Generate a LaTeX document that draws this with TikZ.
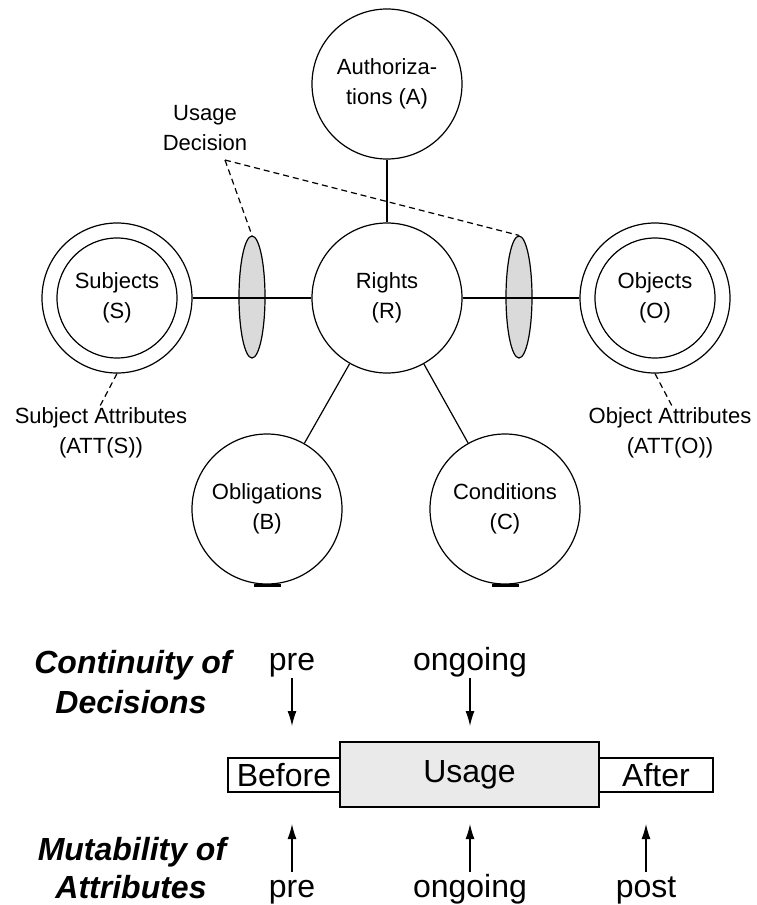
\documentclass[tikz,border=0pt]{standalone}
\usepackage{fontspec}
\setmainfont{Liberation Sans}
\usetikzlibrary{shapes.geometric,arrows.meta}
\definecolor{lensgrey}{RGB}{218,218,218}
\definecolor{boxgrey}{RGB}{234,234,234}
\begin{document}
\begin{tikzpicture}[x=1pt,y=-1pt,line width=1.2pt,
  circ/.style={circle,draw,minimum size=150pt,inner sep=0pt,align=center,font=\fontsize{22}{30}\selectfont},
  incirc/.style={circle,draw,minimum size=120pt,inner sep=0pt,align=center,font=\fontsize{22}{30}\selectfont},
  lens/.style={ellipse,draw,fill=lensgrey,minimum width=26pt,minimum height=122pt,inner sep=0pt},
  lbl/.style={font=\fontsize{22}{30}\selectfont,align=center,inner sep=0pt},
  dashline/.style={dash pattern=on 6pt off 4pt},
  big/.style={font=\fontsize{32}{40}\selectfont,inner sep=0pt,anchor=base},
  bigbi/.style={font=\fontsize{32}{40}\selectfont\bfseries\itshape,inner sep=0pt,anchor=base},
  boxn/.style={draw,inner sep=0pt,font=\fontsize{32}{40}\selectfont},
  arr/.style={-{Latex[length=15pt,width=9pt]}}
]
\useasboundingbox (0,0) rectangle (756,905);

% circles
\node[circ] (A) at (387,84) {Authoriza-\\tions (A)};
\node[circ] (R) at (387,298) {Rights\\(R)};
\node[circ] (So) at (117,298) {};
\node[incirc] (Si) at (117,298) {Subjects\\(S)};
\node[circ] (Oo) at (655,298) {};
\node[incirc] (Oi) at (655,298) {Objects\\(O)};
\node[circ] (B) at (267,509) {Obligations\\(B)};
\node[circ] (C) at (505,509) {Conditions\\(C)};
\draw[line width=3pt] (254,585) -- (281,585);
\draw[line width=3pt] (492,585) -- (519,585);

% lenses
\node[lens] (L1) at (252,297) {};
\node[lens] (L2) at (519,297) {};

% connectors
\draw (So) -- (R);
\draw (R) -- (Oo);
\draw (A) -- (R);
\draw (R) -- (B);
\draw (R) -- (C);

% usage decision
\node[lbl] (UD) at (205,128) {Usage\\Decision};
\coordinate (apex) at (225,160);
\draw[dashline] (apex) -- (L1.north);
\draw[dashline] (apex) -- (L2.north);

% attributes
\node[lbl] (SA) at (101,433) {Subject Attributes\\(ATT(S))};
\node[lbl] (OA) at (670,433) {Object Attributes\\(ATT(O))};
\coordinate (sa) at (100,406);
\coordinate (oa) at (672,406);
\draw[dashline] (So.south) -- (sa);
\draw[dashline] (Oo.south) -- (oa);

% bottom timeline
\node[boxn,minimum width=112pt,minimum height=34pt] (Bef) at (284,775) {Before};
\node[boxn,minimum width=114pt,minimum height=34pt] (Aft) at (656,775) {After};
\node[boxn,fill=boxgrey,minimum width=259pt,minimum height=65pt] (Use) at (469.5,774.5) {Usage};

\node[bigbi] (cont1) at (133,673) {Continuity of};
\node[bigbi] (cont2) at (131,713) {Decisions};
\node[bigbi] (mut1) at (132,860) {Mutability of};
\node[bigbi] (mut2) at (131,898) {Attributes};

\node[big] (pre1) at (292,670) {pre};
\node[big] (on1) at (470,670) {ongoing};
\node[big] (pre2) at (292,897) {pre};
\node[big] (on2) at (470,897) {ongoing};
\node[big] (post2) at (646,897) {post};

\coordinate (t1a) at (292,678); \coordinate (t1b) at (292,726);
\coordinate (t2a) at (470,678); \coordinate (t2b) at (470,726);
\coordinate (b1a) at (292,872); \coordinate (b1b) at (292,824);
\coordinate (b2a) at (470,872); \coordinate (b2b) at (470,824);
\coordinate (b3a) at (646,872); \coordinate (b3b) at (646,824);
\draw[arr] (t1a) -- (t1b);
\draw[arr] (t2a) -- (t2b);
\draw[arr] (b1a) -- (b1b);
\draw[arr] (b2a) -- (b2b);
\draw[arr] (b3a) -- (b3b);
\end{tikzpicture}
\end{document}
